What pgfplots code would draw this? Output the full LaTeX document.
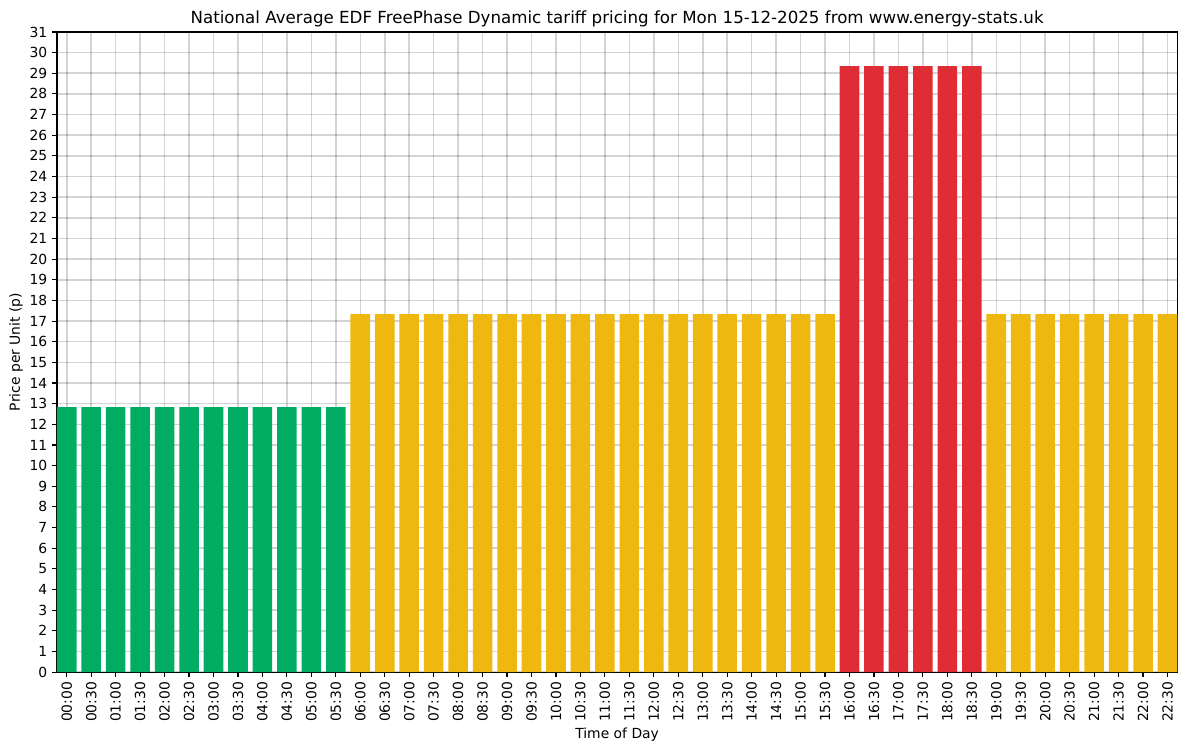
\documentclass[border=0pt]{standalone}
\usepackage{pgfplots}
\pgfplotsset{compat=1.18}
\usepackage{fontspec}
\setmainfont{DejaVu Sans}
\definecolor{cheap}{RGB}{0,173,99}
\definecolor{mid}{RGB}{238,184,16}
\definecolor{peak}{RGB}{224,45,53}
\begin{document}
\begin{tikzpicture}
\begin{axis}[
scale only axis,
width=806.4pt, height=460.8pt,
ybar, bar width=0.8, bar shift=0pt,
xmin=-0.4, xmax=45.4,
ymin=0, ymax=31,
ytick={0,1,...,31},
xtick={0,1,...,45},
xticklabels={00:00,00:30,01:00,01:30,02:00,02:30,03:00,03:30,04:00,04:30,05:00,05:30,06:00,06:30,07:00,07:30,08:00,08:30,09:00,09:30,10:00,10:30,11:00,11:30,12:00,12:30,13:00,13:30,14:00,14:30,15:00,15:30,16:00,16:30,17:00,17:30,18:00,18:30,19:00,19:30,20:00,20:30,21:00,21:30,22:00,22:30},
x tick label style={rotate=90, anchor=east},
/pgf/number format/assume math mode=true,
tick label style={font=\fontsize{10}{12}\selectfont},
label style={font=\fontsize{10}{12}\selectfont},
xlabel style={yshift=2.5pt},
ylabel style={yshift=-2pt},
title style={font=\fontsize{12}{14}\selectfont, yshift=-6pt},
title={National Average EDF FreePhase Dynamic tariff pricing for Mon 15-12-2025 from www.energy-stats.uk},
xlabel={Time of Day},
ylabel={Price per Unit (p)},
grid=major,
major grid style={draw=black, draw opacity=0.17, line width=1.1pt},
tick align=outside,
major tick length=3.5pt,
every tick/.style={black, line width=0.8pt},
axis line style={line width=0.8pt},
xtick pos=bottom, ytick pos=left,
]
\addplot[fill=cheap, draw=none] coordinates {
(0,12.83) (1,12.83) (2,12.83) (3,12.83) (4,12.83) (5,12.83)
(6,12.83) (7,12.83) (8,12.83) (9,12.83) (10,12.83) (11,12.83)
};
\addplot[fill=mid, draw=none] coordinates {
(12,17.34) (13,17.34) (14,17.34) (15,17.34) (16,17.34) (17,17.34)
(18,17.34) (19,17.34) (20,17.34) (21,17.34) (22,17.34) (23,17.34)
(24,17.34) (25,17.34) (26,17.34) (27,17.34) (28,17.34) (29,17.34)
(30,17.34) (31,17.34)
(38,17.34) (39,17.34) (40,17.34) (41,17.34) (42,17.34) (43,17.34)
(44,17.34) (45,17.34)
};
\addplot[fill=peak, draw=none] coordinates {
(32,29.35) (33,29.35) (34,29.35) (35,29.35) (36,29.35) (37,29.35)
};
\end{axis}
\path (current axis.south west) ++(-41pt,-57pt) (current axis.north east) ++(7pt,23pt);
\end{tikzpicture}
\end{document}
